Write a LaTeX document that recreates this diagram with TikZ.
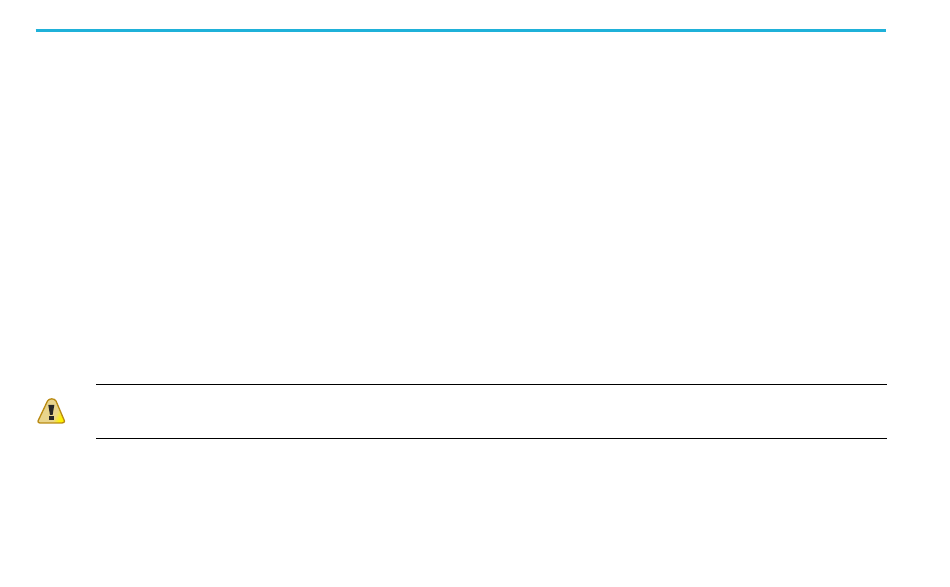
\documentclass[tikz,border=0pt]{standalone}
\definecolor{toprule}{HTML}{1FB1D9}
\definecolor{signedge}{HTML}{B98A12}
\definecolor{signpale}{HTML}{E9D58C}
\definecolor{signbright}{HTML}{FFF200}
\pgfdeclarehorizontalshading{signshade}{100bp}{color(0bp)=(signpale); color(60bp)=(signpale); color(72bp)=(signbright); color(100bp)=(signbright)}
\begin{document}
\begin{tikzpicture}
        \useasboundingbox (0,0) rectangle (9.5,5.86);
        \coordinate (topl) at (0.355,5.555);
        \coordinate (topr) at (8.855,5.555);
        \coordinate (notel) at (0.96,2.017);
        \coordinate (noter) at (8.87,2.017);
        \coordinate (notebl) at (0.96,1.477);
        \coordinate (notebr) at (8.87,1.477);
        \draw [toprule, line width=0.033cm] (topl)--(topr);
        \draw [black, line width=0.011cm] (notel)--(noter);
        \draw [black, line width=0.011cm] (notebl)--(notebr);
        \draw [signedge, line width=0.013cm, line join=round, shading=signshade, shading angle=-25]
            (0.38,1.65)--(0.475,1.85) to [out=60,in=120] (0.56,1.85)--(0.645,1.65) to [out=-60,in=0] (0.62,1.63)--(0.40,1.63) to [out=180,in=-120] cycle;
        \fill [black!85] (0.483,1.81)--(0.543,1.81)--(0.526,1.71)--(0.500,1.71)--cycle;
        \fill [black!85] (0.490,1.66) rectangle (0.536,1.70);
    \end{tikzpicture}
\end{document}
